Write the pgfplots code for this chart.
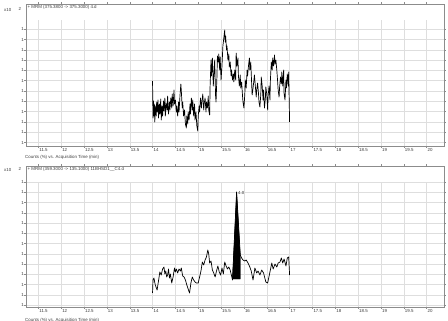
\documentclass[border=0pt]{standalone}
\usepackage{pgfplots}
\pgfplotsset{compat=1.18}
\usepackage{fontspec}
\setmainfont{Liberation Sans}
\definecolor{gridc}{RGB}{222,222,222}
\definecolor{framec}{RGB}{140,140,140}
\definecolor{txt}{RGB}{60,60,60}
\newcommand{\fs}{\fontsize{4.4}{5}\selectfont}
\pgfplotsset{
  chrom/.style={
    scale only axis, width=418pt, anchor=south west,
    xmin=11.23, xmax=20.38, ymin=0,
    axis line style={framec, line width=0.6pt},
    xtick={11.5,12,12.5,13,13.5,14,14.5,15,15.5,16,16.5,17,17.5,18,18.5,19,19.5,20},
    xticklabels={11.5,12,12.5,13,13.5,14,14.5,15,15.5,16,16.5,17,17.5,18,18.5,19,19.5,20},
    xticklabel style={font=\fs, text=txt, anchor=north west, inner sep=0.6pt, xshift=0.3pt, yshift=-0.5pt},
    yticklabel style={font=\fs, text=txt, inner sep=0.3pt},
    tick align=outside, major tick length=1.6pt,
    tick style={framec, line width=0.4pt},
    ymajorgrids=true,
    grid style={gridc, line width=0.4pt},
    clip=true,
  },
  trace/.style={black, line width=0.7pt, line join=round, no marks},
}
\begin{document}
\begin{tikzpicture}[x=1pt,y=1pt]
\path[use as bounding box] (0pt,0pt) rectangle (448pt,-321pt);
% ---------------- top chromatogram ----------------
\begin{axis}[chrom, at={(26pt,-146pt)}, height=142pt, ymax=142,
  ytick={3.5,13.8,24.1,34.4,44.7,55,65.3,75.6,85.9,96.2,106.5,116.8},
  yticklabels={1,1,1,1,1,1,1,1,1,1,1,1}]
\pgfplotsinvokeforeach{11.5,12,12.5,13,13.5,14,14.5,15,15.5,16,16.5,17,17.5,18,18.5,19,19.5,20}{
  \draw[gridc, line width=0.4pt] (axis cs:#1,0) -- (axis cs:#1,126);}
\addplot[trace] coordinates {
(14.00,65) (14.01,28) (14.02,45) (14.03,30) (14.04,42) (14.05,24) (14.06,40) (14.08,30)
(14.09,44) (14.10,34) (14.12,46) (14.13,28) (14.15,42) (14.16,32) (14.18,47) (14.19,26)
(14.21,40) (14.22,30) (14.24,45) (14.25,35) (14.27,48) (14.28,30) (14.30,43) (14.32,36)
(14.33,50) (14.35,32) (14.37,44) (14.38,36) (14.40,48) (14.42,38) (14.43,52) (14.45,40)
(14.47,56) (14.48,42) (14.50,46) (14.52,34) (14.53,40) (14.55,30) (14.57,44) (14.58,34)
(14.60,50) (14.62,62) (14.63,55) (14.65,38) (14.66,44) (14.68,30) (14.70,36) (14.72,22)
(14.74,18) (14.75,30) (14.77,22) (14.78,34) (14.80,26) (14.82,42) (14.83,32) (14.85,48)
(14.87,36) (14.88,46) (14.90,30) (14.92,42) (14.93,26) (14.95,34) (14.97,20) (14.99,15)
(15.00,30) (15.02,40) (15.03,34) (15.05,48) (15.07,38) (15.08,44) (15.10,52) (15.12,36)
(15.13,42) (15.15,48) (15.17,34) (15.18,44) (15.20,38) (15.22,50) (15.23,36) (15.25,31)
(15.26,60) (15.28,86) (15.29,70) (15.31,88) (15.33,60) (15.35,78) (15.36,86) (15.38,50)
(15.39,44) (15.41,70) (15.42,90) (15.44,84) (15.45,92) (15.47,76) (15.48,89) (15.50,66)
(15.52,80) (15.54,100) (15.56,108) (15.58,116) (15.59,104) (15.60,110) (15.62,96) (15.63,100)
(15.65,86) (15.67,92) (15.68,79) (15.70,84) (15.72,70) (15.73,76) (15.75,66) (15.77,72)
(15.78,64) (15.80,76) (15.82,66) (15.83,93) (15.85,80) (15.87,88) (15.88,70) (15.90,60)
(15.92,71) (15.93,58) (15.95,64) (15.97,50) (15.98,44) (16.00,38) (16.02,52) (16.03,66)
(16.05,58) (16.07,76) (16.08,70) (16.10,80) (16.12,88) (16.13,76) (16.15,84) (16.17,62)
(16.18,51) (16.20,58) (16.22,66) (16.23,71) (16.25,60) (16.27,49) (16.28,56) (16.30,63)
(16.32,52) (16.33,44) (16.35,39) (16.37,52) (16.38,69) (16.40,60) (16.42,46) (16.43,56)
(16.45,38) (16.47,48) (16.48,59) (16.50,52) (16.52,36) (16.53,50) (16.55,60) (16.57,46)
(16.58,66) (16.60,84) (16.62,76) (16.63,88) (16.65,80) (16.67,91) (16.68,82) (16.70,86)
(16.72,76) (16.73,70) (16.75,56) (16.77,49) (16.78,58) (16.80,69) (16.82,62) (16.83,74)
(16.85,60) (16.87,76) (16.88,52) (16.90,46) (16.92,66) (16.93,58) (16.95,72) (16.97,60)
(16.98,74) (17.00,24)
};
\end{axis}
% ---------------- bottom chromatogram ----------------
\begin{axis}[chrom, at={(26pt,-307pt)}, height=141pt, ymax=141,
  ytick={2,12.25,22.5,32.75,43,53.25,63.5,73.75,84,94.25,104.5,114.75,125},
  yticklabels={1,1,1,1,1,1,1,1,1,1,1,1,1}]
\pgfplotsinvokeforeach{11.5,12,12.5,13,13.5,14,14.5,15,15.5,16,16.5,17,17.5,18,18.5,19,19.5,20}{
  \draw[gridc, line width=0.4pt] (axis cs:#1,0) -- (axis cs:#1,125);}
\addplot[fill=black, draw=black, line width=0.4pt] coordinates {
(15.75,28) (15.84,115) (15.92,52) (15.92,28) (15.75,28)};
\addplot[trace] coordinates {
(14.00,14) (14.01,27) (14.03,29) (14.06,22) (14.10,17) (14.13,26) (14.16,35) (14.19,32)
(14.22,38) (14.25,40) (14.27,33) (14.29,36) (14.31,30) (14.33,32) (14.35,38) (14.37,29)
(14.39,33) (14.42,24) (14.45,30) (14.48,39) (14.50,35) (14.52,38) (14.55,34) (14.58,38)
(14.61,36) (14.63,39) (14.66,31) (14.69,30) (14.72,27) (14.75,22) (14.78,18) (14.81,14)
(14.84,24) (14.87,30) (14.90,27) (14.93,25) (14.96,24) (15.00,24) (15.03,30) (15.06,36)
(15.09,45) (15.12,42) (15.15,47) (15.18,50) (15.21,57) (15.23,53) (15.25,44) (15.28,46)
(15.31,37) (15.34,34) (15.37,30) (15.40,36) (15.43,41) (15.46,35) (15.49,32) (15.52,39)
(15.55,33) (15.58,45) (15.61,41) (15.64,38) (15.67,40) (15.70,37) (15.73,31) (15.75,27)
(15.84,115) (15.92,52) (15.95,49) (15.98,47) (16.02,46) (16.05,47) (16.09,44) (16.13,40)
(16.16,36) (16.20,27) (16.24,39) (16.28,34) (16.31,36) (16.35,32) (16.39,37) (16.43,34)
(16.48,25) (16.52,24) (16.57,35) (16.61,44) (16.64,38) (16.68,43) (16.72,40) (16.75,44)
(16.79,45) (16.82,49) (16.85,44) (16.88,48) (16.92,41) (16.95,49) (16.98,50) (17.00,32)
};
\node[anchor=south west, font=\fs, text=txt, inner sep=0.5pt] at (axis cs:15.86,112) {4.0};
\end{axis}
% ---------------- texts ----------------
\node[anchor=west, font=\fs, text=txt, inner sep=0pt] at (4pt,-10pt) {x10};
\node[anchor=west, font=\fs, text=txt, inner sep=0pt] at (18.5pt,-9pt) {2};
\node[anchor=west, font=\fs, text=txt, inner sep=0pt] at (27.5pt,-7.5pt) {+ MRM (375.3800 -> 375.3000) 4.d};
\node[anchor=west, font=\fs, text=txt, inner sep=0pt] at (25pt,-157pt) {Counts (\%) vs. Acquisition Time (min)};
\node[anchor=west, font=\fs, text=txt, inner sep=0pt] at (4pt,-170pt) {x10};
\node[anchor=west, font=\fs, text=txt, inner sep=0pt] at (18.5pt,-169pt) {2};
\node[anchor=west, font=\fs, text=txt, inner sep=0pt] at (27.5pt,-169.5pt) {+ MRM (359.3000 -> 135.1000) 11BHSD1\_\_C4.d};
\node[anchor=west, font=\fs, text=txt, inner sep=0pt] at (25pt,-320pt) {Counts (\%) vs. Acquisition Time (min)};
\end{tikzpicture}
\end{document}
